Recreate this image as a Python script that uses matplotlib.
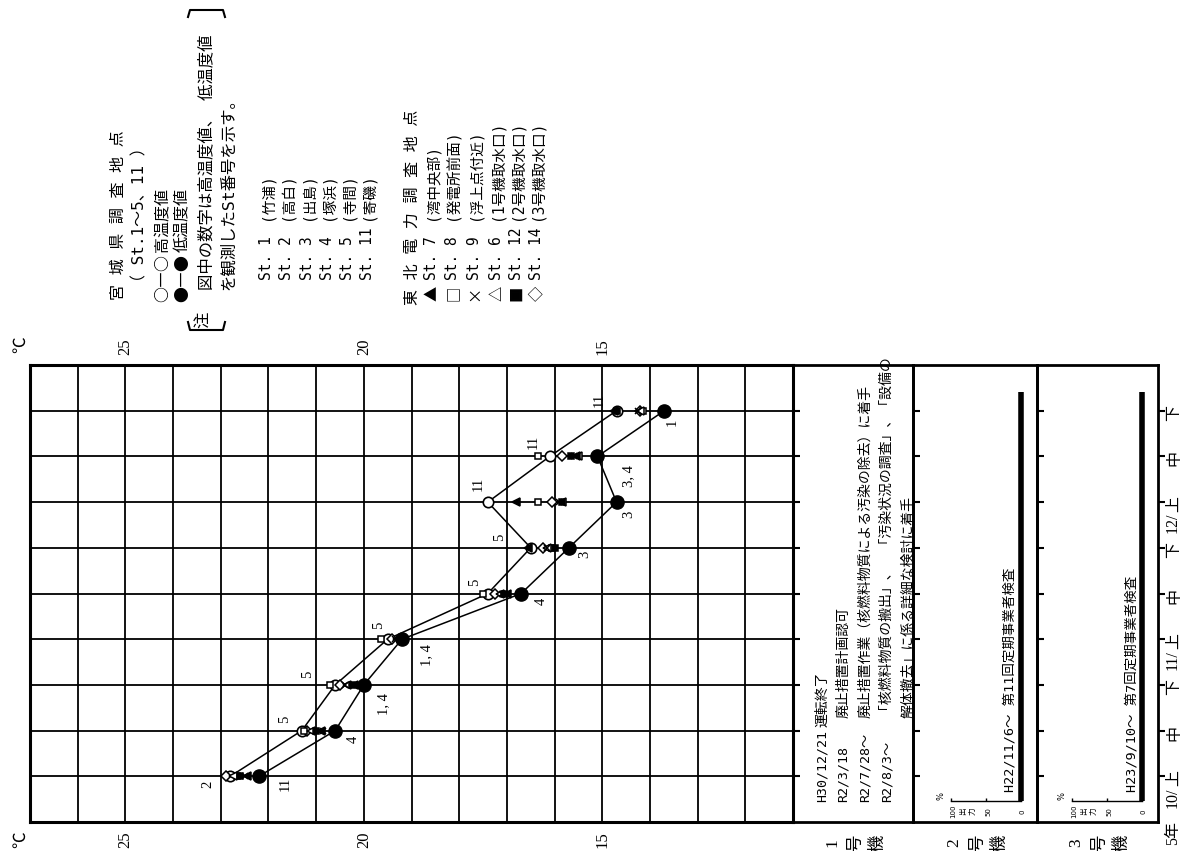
"""女川原子力発電所周辺 水温調査結果（10月上旬～12月下旬）の図の再現。"""

import matplotlib

matplotlib.use("Agg")
import matplotlib.pyplot as plt
import numpy as np

plt.rcParams["font.family"] = ["DejaVu Sans Mono", "Noto Sans CJK JP"]
SERIF = ["Liberation Serif", "Noto Sans CJK JP"]
CJK = "Noto Sans CJK JP"

W, H = 1195, 851

# 時期（旬）: 1..9 が 10/上 ～ 12/下
TIME_POS = [1, 2, 3, 4, 5, 6, 7, 8, 9]
TIME_LABELS = ["上", "中", "下", "上", "中", "下", "上", "中", "下"]
MONTH_LABELS = ["10/", "11/", "12/"]
MONTH_POS = [1, 4, 7]
TEMP_LABELED = [25, 20, 15]

# 宮城県調査地点 (St.1～5, 11)
HIGH = [22.8, 21.3, 20.6, 19.5, 17.4, 16.5, 17.4, 16.1, 14.7]
LOW = [22.2, 20.6, 20.0, 19.2, 16.7, 15.7, 14.7, 15.1, 13.7]
HIGH_ST = ["2", "5", "5", "5", "5", "5", "11", "11", "11"]
LOW_ST = ["11", "4", "1, 4", "1, 4", "4", "3", "3", "3, 4", "1"]

# 東北電力調査地点
ST7 = [22.45, 20.9, 20.2, 19.25, 17.0, 16.55, 16.8, 15.55, 14.75]
ST8 = [22.65, 21.25, 20.7, 19.65, 17.5, 16.05, 16.35, 16.35, 14.15]
ST9 = [22.5, 20.85, 20.4, 19.35, 17.1, 16.15, 15.9, 15.6, 14.25]
ST6 = [22.75, 21.1, 20.35, 19.3, 17.15, 16.15, 15.85, 15.5, 14.2]
ST12 = [22.6, 21.0, 20.25, 19.25, 17.05, 16.0, 15.85, 15.65, 14.7]
ST14 = [22.9, 21.2, 20.5, 19.4, 17.25, 16.25, 16.05, 15.85, 14.2]

# 2号機・3号機 出力 (%)
OUTPUT_SPAN = [0.45, 9.4]
UNIT2_OUTPUT = [0, 0]
UNIT3_OUTPUT = [0, 0]

# ラベル位置 (px: 右, 下)
HIGH_OFF = [(-22, 8), (-17, -11), (-28, -11), (-9, -14), (-13, -11), (-31, -10), (-10, -18), (-17, -15), (-17, -11)]
LOW_OFF = [(26, 8), (18, 9), (20, 19), (25, 16), (20, 8), (16, 7), (12, 12), (31, 20), (8, 12)]

PT = 0.72  # px -> pt at dpi 100


def frame(x0, x1, y0=365, y1=822):
    return [x0 / W, 1 - y1 / H, (x1 - x0) / W, (y1 - y0) / H]


fig = plt.figure(figsize=(W / 100, H / 100), dpi=100)
ax = fig.add_axes(frame(30, 793))
ax1 = fig.add_axes(frame(793, 913))
ax2 = fig.add_axes(frame(913, 1037))
ax3 = fig.add_axes(frame(1037, 1158))
ov = fig.add_axes([0, 0, 1, 1], zorder=10)
ov.set_xlim(0, W)
ov.set_ylim(H, 0)
ov.axis("off")

# --- main temperature chart ---
temps = np.arange(11, 28)
ax.set_xlim(27, 11)
ax.set_ylim(0, 10)
ax.set_xticks(temps)
ax.set_xticklabels([str(t) if t in TEMP_LABELED else "" for t in temps], family=SERIF)
ax.set_yticks(TIME_POS)
ax.set_yticklabels([])
ax.set_axisbelow(True)
ax.grid(True, color="black", lw=1.3)
ax.tick_params(axis="both", length=0)
ax.tick_params(axis="x", labeltop=True, labelbottom=True, labelrotation=90, labelsize=12, pad=7)
for s in ax.spines.values():
    s.set_linewidth(2.2)

ax.plot(HIGH, TIME_POS, color="black", lw=1.1, marker="o", ms=7.5, mfc="white", mec="black", mew=1.2, zorder=4)
ax.plot(LOW, TIME_POS, color="black", lw=1.1, marker="o", ms=9.5, mfc="black", mec="black", zorder=4)

tepco = [
    (ST14, "D", "white", 5.0),
    (ST8, "s", "white", 5.0),
    (ST6, "<", "white", 5.5),
    (ST9, "x", "black", 5.0),
    (ST12, "s", "black", 4.8),
    (ST7, "<", "black", 5.5),
]
for vals, mk, fc, ms in tepco:
    ax.plot(vals, TIME_POS, ls="none", marker=mk, ms=ms, mfc=fc, mec="black", mew=1.1, zorder=5)

for t, v, lbl, (dx, dy) in zip(TIME_POS, HIGH, HIGH_ST, HIGH_OFF):
    ax.annotate(lbl, (v, t), xytext=(dx * PT, -dy * PT), textcoords="offset points", rotation=90,
                ha="center", va="center", fontsize=10.5, family=SERIF)
for t, v, lbl, (dx, dy) in zip(TIME_POS, LOW, LOW_ST, LOW_OFF):
    ax.annotate(lbl, (v, t), xytext=(dx * PT, -dy * PT), textcoords="offset points", rotation=90,
                ha="center", va="center", fontsize=10.5, family=SERIF)

# --- unit panels ---
for pax in (ax1, ax2, ax3):
    pax.set_facecolor("none")
    pax.set_ylim(0, 10)
    pax.set_yticks(TIME_POS)
    pax.set_xticks([])
    pax.tick_params(axis="y", direction="in", length=5, width=1.5, labelleft=False)
    for s in pax.spines.values():
        s.set_linewidth(2)

ax3r = ax3.twinx()
ax3r.set_ylim(0, 10)
ax3r.set_yticks(TIME_POS)
ax3r.set_yticklabels(TIME_LABELS, rotation=90, fontsize=11.5, family=SERIF)
ax3r.tick_params(axis="y", direction="out", length=5, width=1.5, pad=1)
for s in ax3r.spines.values():
    s.set_visible(False)
ytr = ax3r.get_yaxis_transform()
for lbl, pos in zip(MONTH_LABELS, MONTH_POS):
    ax3r.annotate(lbl, (1, pos), xycoords=ytr, xytext=(15 * PT, -21 * PT), textcoords="offset points",
                  rotation=90, ha="center", va="center", fontsize=11.5, family=SERIF)
ax3r.annotate("5年", (1, 0), xycoords=ytr, xytext=(15 * PT, -11 * PT), textcoords="offset points",
              rotation=90, ha="center", va="center", fontsize=11.5, family=SERIF)

for pax, out, lim in ((ax2, UNIT2_OUTPUT, (154.3, -22.9)), (ax3, UNIT3_OUTPUT, (150.0, -22.9))):
    pax.set_xlim(*lim)
    pax.plot(out, OUTPUT_SPAN, color="black", lw=4, solid_capstyle="butt")
    base = OUTPUT_SPAN[0]
    pax.plot([100, 0], [base, base], color="black", lw=1)
    pax.vlines([100, 50, 0], base, base + 0.08, color="black", lw=1)
    for lbl, xv in (("100", 100), ("50", 50), ("0", 0)):
        pax.annotate(lbl, (xv, base), xytext=(2 * PT, -10 * PT), textcoords="offset points",
                     rotation=90, ha="center", va="center", fontsize=5, family="DejaVu Sans")
    for lbl, dx in (("出", 12), ("力", 22)):
        pax.annotate(lbl, (100, base), xytext=(dx * PT, -10 * PT), textcoords="offset points",
                     rotation=90, ha="center", va="center", fontsize=5.5, family=CJK)
    pax.annotate("%", (100, base), xytext=(-10 * PT, 5 * PT), textcoords="offset points",
                 rotation=90, ha="center", va="center", fontsize=6, family="DejaVu Sans")

for pax, name in ((ax1, "1号機"), (ax2, "2号機"), (ax3, "3号機")):
    for ch, dx in zip(name, (-21, 2, 24)):
        pax.annotate(ch, (0.5, 0), xycoords="axes fraction", xytext=(dx * PT, -21 * PT),
                     textcoords="offset points", rotation=90, ha="center", va="center", fontsize=12.5,
                     family=SERIF if ch.isdigit() else CJK)


def vtext(x, y, s, size=10, **kw):
    ov.text(x, y, s, rotation=90, rotation_mode="anchor", ha="left", va="center", fontsize=size, **kw)


# 1号機 経過
vtext(822, 802, "H30/12/21", 9.5)
vtext(822, 727, "運転終了", 10)
unit1 = [
    (843, "R2/3/18", "廃止措置計画認可"),
    (865, "R2/7/28～", "廃止措置作業（核燃料物質による汚染の除去）に着手"),
    (887, "R2/8/3～", "「核燃料物質の搬出」、　「汚染状況の調査」、「設備の"),
    (908, "", "解体撤去」に係る詳細な検討に着手"),
]
for x, date, desc in unit1:
    if date:
        vtext(x, 802, date, 9.5)
    vtext(x, 718, desc, 10)

vtext(1010, 792, "H22/11/6～ 第11回定期事業者検査", 9.7)
vtext(1132, 792, "H23/9/10～ 第7回定期事業者検査", 9.7)

# 温度軸の単位
for y in (345, 840):
    ov.text(20, y, "℃", rotation=90, ha="center", va="center", fontsize=12, family=CJK)

# 凡例（宮城県）
vtext(118, 300, "宮 城 県 調 査 地 点", 11.5)
vtext(140, 290, "（ St.1～5、11 ）", 11.5)
vtext(163, 302, "○―○", 11.5, family=CJK)
vtext(163, 252, "高温度値", 11.5)
vtext(183, 302, "●―●", 11.5, family=CJK)
vtext(183, 252, "低温度値", 11.5)
vtext(204, 328, "注", 11.8)
vtext(206, 290, "図中の数字は高温度値、 低温度値", 11.8)
vtext(228, 290, "を観測したSt番号を示す。", 11.8)
ov.plot([188, 190, 223, 225], [322, 330, 330, 322], color="black", lw=1.5)
ov.plot([188, 190, 223, 225], [17, 10, 10, 17], color="black", lw=1.5)

miyagi_st = [("St. 1", "(竹浦)"), ("St. 2", "(高白)"), ("St. 3", "(出島)"),
             ("St. 4", "(塚浜)"), ("St. 5", "(寺間)"), ("St. 11", "(寄磯)")]
for x, (st, nm) in zip([267, 287, 308, 328, 348, 368], miyagi_st):
    vtext(x, 280, st, 10.5)
    vtext(x, 220, nm, 10.5)

# 凡例（東北電力）
vtext(412, 305, "東 北 電 力 調 査 地 点", 11.5)
tepco_st = [("▲", "St. 7", "(湾中央部)"), ("□", "St. 8", "(発電所前面)"), ("×", "St. 9", "(浮上点付近)"),
            ("△", "St. 6", "(1号機取水口)"), ("■", "St. 12", "(2号機取水口)"), ("◇", "St. 14", "(3号機取水口)")]
for x, (sym, st, nm) in zip([432, 453, 475, 497, 517, 537], tepco_st):
    ov.text(x, 293, sym, rotation=90, ha="center", va="center", fontsize=11, family=CJK)
    vtext(x, 280, st, 10.5)
    vtext(x, 220, nm, 10.5)

fig.savefig("out.png", dpi=100, facecolor="white")
